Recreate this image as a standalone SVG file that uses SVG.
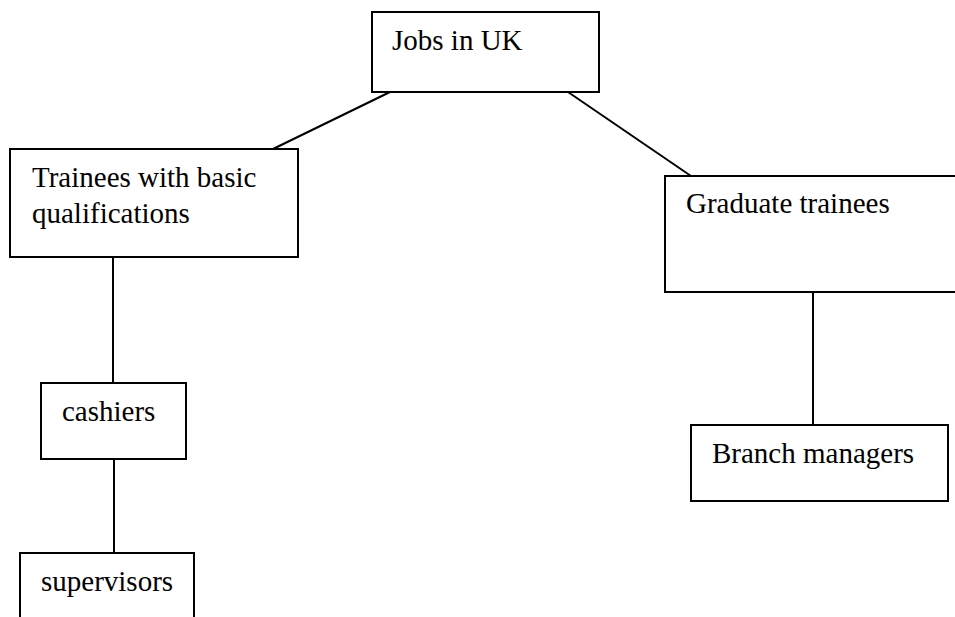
<svg xmlns="http://www.w3.org/2000/svg" width="955" height="617" viewBox="0 0 955 617">
  <style>
    .box { fill: #ffffff; stroke: #000000; stroke-width: 2; }
    .edge { stroke: #000000; stroke-width: 2; fill: none; }
    .label { font-family: "Liberation Serif", "Times New Roman", serif; font-size: 29px; fill: #000000; }
  </style>
  <rect width="955" height="617" fill="#ffffff"/>

  <!-- connectors -->
  <g id="connectors">
    <line class="edge" x1="390" y1="92" x2="273" y2="149"/>
    <line class="edge" x1="568" y1="92" x2="691" y2="176"/>
    <line class="edge" x1="113" y1="257" x2="113" y2="383"/>
    <line class="edge" x1="114" y1="459" x2="114" y2="553"/>
    <line class="edge" x1="813" y1="292" x2="813" y2="425"/>
  </g>

  <g id="jobs-uk">
    <rect class="box" x="372" y="12" width="227" height="80"/>
    <text class="label" x="392" y="50">Jobs in UK</text>
  </g>

  <g id="basic-trainees">
    <rect class="box" x="10" y="149" width="288" height="108"/>
    <text class="label" x="32" y="187">Trainees with basic</text>
    <text class="label" x="32" y="223">qualifications</text>
  </g>

  <g id="graduate-trainees">
    <rect class="box" x="665" y="176" width="300" height="116"/>
    <text class="label" x="686" y="213">Graduate trainees</text>
  </g>

  <g id="cashiers">
    <rect class="box" x="41" y="383" width="145" height="76"/>
    <text class="label" x="62" y="421">cashiers</text>
  </g>

  <g id="supervisors">
    <rect class="box" x="20" y="553" width="174" height="80"/>
    <text class="label" x="41" y="591">supervisors</text>
  </g>

  <g id="branch-managers">
    <rect class="box" x="691" y="425" width="257" height="76"/>
    <text class="label" x="712" y="463">Branch managers</text>
  </g>
</svg>
